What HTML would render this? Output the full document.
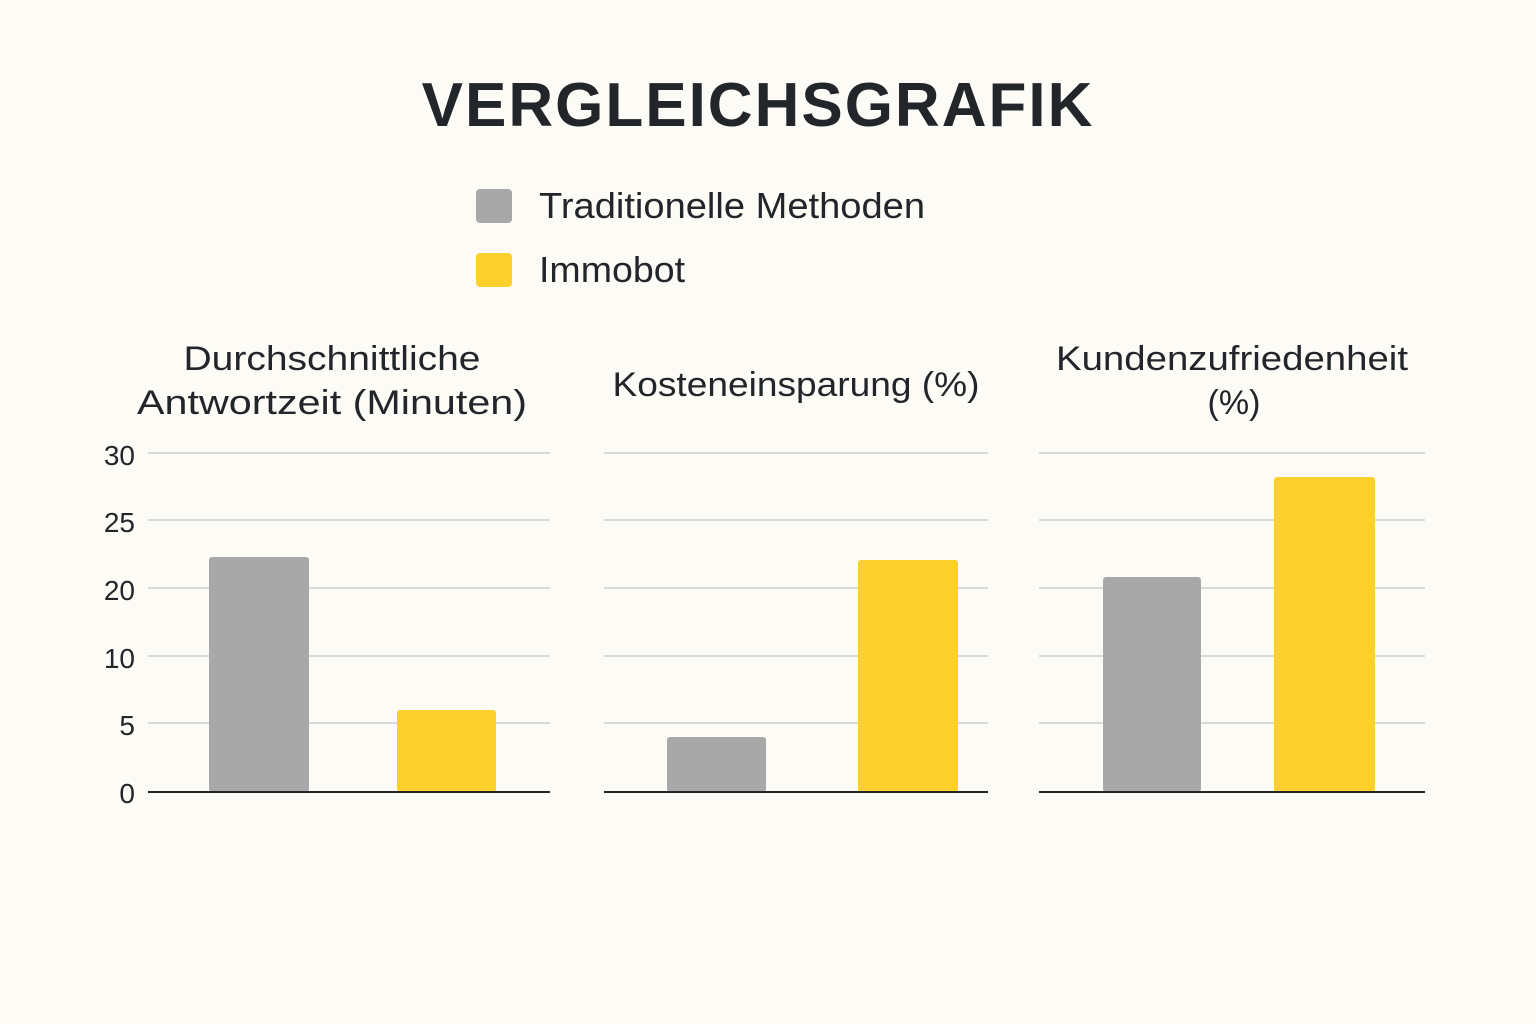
<!DOCTYPE html>
<html><head><meta charset="utf-8"><style>
html,body{margin:0;padding:0;background:#fcfbf6;}
svg{display:block}
</style></head><body>
<svg width="1536" height="1024" xmlns="http://www.w3.org/2000/svg">
<rect width="1536" height="1024" fill="#fcfbf6"/>
<text x="758" y="126" text-anchor="middle" font-family="Liberation Sans, sans-serif" font-weight="bold" font-size="62" letter-spacing="2" fill="#22262a">VERGLEICHSGRAFIK</text>
<rect x="476" y="189" width="36" height="34" rx="4" fill="#a8a8a8"/>
<rect x="476" y="253" width="36" height="34" rx="4" fill="#fdd02b"/>
<g font-family="Liberation Sans, sans-serif" fill="#22262a">
<text x="539" y="218" font-size="36" textLength="386" lengthAdjust="spacingAndGlyphs">Traditionelle Methoden</text>
<text x="539" y="282" font-size="36" textLength="146" lengthAdjust="spacingAndGlyphs">Immobot</text>
<g font-size="34" text-anchor="middle">
<text x="332" y="370" textLength="297" lengthAdjust="spacingAndGlyphs">Durchschnittliche</text>
<text x="332" y="414" textLength="390" lengthAdjust="spacingAndGlyphs">Antwortzeit (Minuten)</text>
<text x="796" y="396" textLength="367" lengthAdjust="spacingAndGlyphs">Kosteneinsparung (%)</text>
<text x="1232" y="370" textLength="352" lengthAdjust="spacingAndGlyphs">Kundenzufriedenheit</text>
<text x="1234" y="414">(%)</text>
</g>
<g font-size="28" text-anchor="end">
<text x="135" y="465">30</text>
<text x="135" y="532">25</text>
<text x="135" y="600">20</text>
<text x="135" y="668">10</text>
<text x="135" y="735">5</text>
<text x="135" y="803">0</text>
</g>
</g>
<g stroke="#cfcfcf" stroke-width="1.5">
<path d="M148 453H550M148 520H550M148 588H550M148 656H550M148 723H550"/>
<path d="M604 453H988M604 520H988M604 588H988M604 656H988M604 723H988"/>
<path d="M1039 453H1425M1039 520H1425M1039 588H1425M1039 656H1425M1039 723H1425"/>
</g>
<rect x="209" y="557" width="100" height="235" rx="3" fill="#a8a8a8"/>
<rect x="397" y="710" width="99" height="82" rx="3" fill="#fdd02b"/>
<rect x="667" y="737" width="99" height="55" rx="3" fill="#a8a8a8"/>
<rect x="858" y="560" width="100" height="232" rx="3" fill="#fdd02b"/>
<rect x="1103" y="577" width="98" height="215" rx="3" fill="#a8a8a8"/>
<rect x="1274" y="477" width="101" height="315" rx="3" fill="#fdd02b"/>
<g stroke="#22262a" stroke-width="2">
<path d="M148 792H550M604 792H988M1039 792H1425"/>
</g>
</svg>
</body></html>
